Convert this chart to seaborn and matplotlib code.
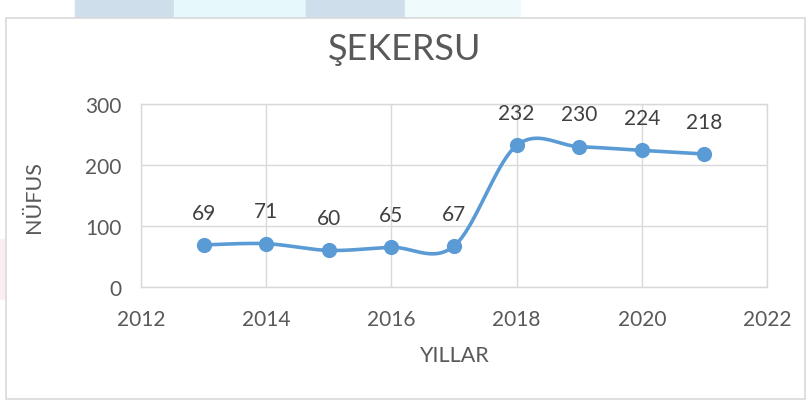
import numpy as np
import pandas as pd
import matplotlib
matplotlib.use("Agg")
import matplotlib.pyplot as plt
from matplotlib.patches import Rectangle
import seaborn as sns

years = [2013, 2014, 2015, 2016, 2017, 2018, 2019, 2020, 2021]
population = [69, 71, 60, 65, 67, 232, 230, 224, 218]
x_ticks = [2012, 2014, 2016, 2018, 2020, 2022]
y_ticks = [0, 100, 200, 300]
title = "ŞEKERSU"
x_label = "YILLAR"
y_label = "NÜFUS"

df = pd.DataFrame({"year": years, "pop": population})

sns.set_theme(style="white")
plt.rcParams["font.family"] = ["Lato", "DejaVu Sans"]

LINE = "#5B9BD5"
TXT = "#595959"

fig = plt.figure(figsize=(8.09, 4.06), dpi=100)
W, H = 809, 406

def fx(px):
    return px / W

def fy(py):
    return 1 - py / H

# background decorations
for x0, x1, c in [(75, 174, "#cfdeeb"), (174, 306, "#e6f8fb"), (306, 405, "#cfdeeb"), (405, 520, "#eefafc")]:
    fig.patches.append(Rectangle((fx(x0), fy(19)), (x1 - x0) / W, 19 / H,
                                 transform=fig.transFigure, color=c, zorder=0))
fig.patches.append(Rectangle((0, fy(300)), 5 / W, 60 / H,
                             transform=fig.transFigure, color="#fbeef2", zorder=0))
# chart frame
fig.patches.append(Rectangle((fx(6), fy(400)), (805 - 6) / W, (400 - 19) / H,
                             transform=fig.transFigure, facecolor="white",
                             edgecolor="#d9d9d9", lw=1.2, zorder=1))

ax = fig.add_axes([fx(141), fy(288), (767 - 141) / W, (288 - 105) / H])
ax.set_zorder(2)

# smooth curve (Catmull-Rom style bezier, like Excel smoothing)
xs = np.array(years, dtype=float)
ys = np.array(population, dtype=float)
n = len(xs)
cx, cy = [], []
t = np.linspace(0, 1, 40)
for i in range(n - 1):
    p0 = np.array([xs[max(i - 1, 0)], ys[max(i - 1, 0)]])
    p1 = np.array([xs[i], ys[i]])
    p2 = np.array([xs[i + 1], ys[i + 1]])
    p3 = np.array([xs[min(i + 2, n - 1)], ys[min(i + 2, n - 1)]])
    c1 = p1 + (p2 - p0) / 6
    c2 = p2 - (p3 - p1) / 6
    b = ((1 - t) ** 3)[:, None] * p1 + (3 * (1 - t) ** 2 * t)[:, None] * c1 + \
        (3 * (1 - t) * t ** 2)[:, None] * c2 + (t ** 3)[:, None] * p2
    cx.extend(b[:, 0]); cy.extend(b[:, 1])

ax.plot(cx, cy, color=LINE, lw=2.6, solid_capstyle="round", zorder=3)
sns.scatterplot(data=df, x="year", y="pop", ax=ax, color=LINE, s=120,
                edgecolor=LINE, linewidth=0, zorder=4)

for xv, yv in zip(years, population):
    ax.annotate(str(yv), (xv, yv), xytext=(0, 16), textcoords="offset points",
                ha="center", va="bottom", fontsize=15, color="#404040")

ax.set_xlim(2012, 2022)
ax.set_ylim(0, 300)
ax.set_xticks(x_ticks)
ax.set_yticks(y_ticks)
ax.grid(True, color="#d9d9d9", lw=1)
for s in ax.spines.values():
    s.set_color("#d9d9d9")
    s.set_linewidth(1)
ax.tick_params(axis="y", length=0, labelsize=15, colors=TXT, pad=14)
ax.tick_params(axis="x", length=0, labelsize=15, colors=TXT, pad=16)
ax.set_xlabel("")
ax.set_ylabel("")
ax.set_facecolor("white")

fig.text(fx(405), fy(50), title, fontsize=26, color=TXT, ha="center", va="center")
fig.text(fx(454), fy(356), x_label, fontsize=15.5, color=TXT, ha="center", va="center")
fig.text(fx(34), fy(197), y_label, fontsize=15.5, color=TXT, ha="center", va="center",
         rotation=90)

fig.savefig("out.png", dpi=100)
